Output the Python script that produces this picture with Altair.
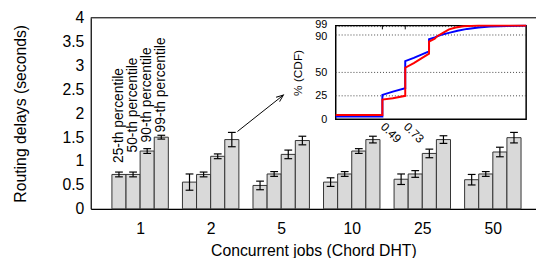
import json
import altair as alt
import pandas as pd

# ---------------- data ----------------
jobs = ["1", "2", "5", "10", "25", "50"]
percentiles = ["25-th percentile", "50-th percentile", "90-th percentile", "99-th percentile"]
p25 = [0.72, 0.56, 0.49, 0.56, 0.62, 0.61]
p50 = [0.72, 0.72, 0.73, 0.73, 0.73, 0.73]
p90 = [1.21, 1.10, 1.14, 1.21, 1.16, 1.19]
p99 = [1.50, 1.45, 1.43, 1.45, 1.45, 1.49]
e25 = [0.05, 0.17, 0.09, 0.09, 0.11, 0.11]
e50 = [0.05, 0.05, 0.05, 0.05, 0.07, 0.05]
e90 = [0.05, 0.05, 0.09, 0.05, 0.09, 0.10]
e99 = [0.04, 0.15, 0.09, 0.07, 0.08, 0.11]
label_y = [0.96, 1.18, 1.39, 1.60]          # where the percentile names start
y_ticks = [0, 0.5, 1, 1.5, 2, 2.5, 3, 3.5, 4]

# arrow from the 99-th percentile bar of "2" to the inset (data units)
arrow_from = [1.38, 1.62]
arrow_to = [2.03, 2.38]

# inset CDF curves
blue_x = [0, 0.49, 0.49, 0.60, 0.73, 0.73, 0.82, 0.90, 0.98, 0.98, 1.04, 1.10, 1.20, 1.28, 1.38, 1.50, 1.62, 1.80, 2.0]
blue_y = [3, 3, 26, 29.5, 33, 62, 65.5, 69, 72.5, 85.5, 87.5, 90, 92.5, 94.5, 96.5, 98, 99, 99.7, 100]
red_x = [0, 0.49, 0.49, 0.60, 0.73, 0.73, 0.82, 0.90, 0.98, 0.98, 1.04, 1.07, 1.14, 1.19, 1.26, 1.34, 1.50, 2.0]
red_y = [4.5, 4.5, 21, 22.5, 25, 55, 60, 65, 70, 83, 86, 89, 93, 96, 98, 99.3, 100, 100]
inset_y_ticks = [0, 25, 50, 90, 99]
inset_x_ticks = [0.49, 0.73]
inset_grid = [25, 50, 90, 99]
inset_x_domain = [0, 2]
inset_y_domain = [0, 100]
main_x_domain = [-0.7, 5.612]
main_y_domain = [0, 4]

# ---------------- tables ----------------
vals = [p25, p50, p90, p99]
errs = [e25, e50, e90, e99]
rows = []
for gi, job in enumerate(jobs):
    for pi, pname in enumerate(percentiles):
        xc = gi + (pi - 1.5) * 0.2
        v = vals[pi][gi]
        e = errs[pi][gi]
        rows.append(dict(job=job, pct=pname, xc=xc, x0=xc - 0.1, x1=xc + 0.1,
                         v=v, zero=0.0, lo=v - e, hi=v + e, cl=xc - 0.055, cr=xc + 0.055))
bars = pd.DataFrame(rows)

labels = pd.DataFrame(dict(x=[(pi - 1.5) * 0.2 for pi in range(4)], y=label_y, text=percentiles))
arrow = pd.DataFrame(dict(x=[arrow_from[0]], y=[arrow_from[1]], x2=[arrow_to[0]], y2=[arrow_to[1]]))
border = pd.DataFrame(dict(x=[main_x_domain[0]], x2=[main_x_domain[1]], y=[main_y_domain[1]]))

cdf = pd.concat([
    pd.DataFrame(dict(cx=blue_x, cy=blue_y, series="blue", i=range(len(blue_x)))),
    pd.DataFrame(dict(cx=red_x, cy=red_y, series="red", i=range(len(red_x)))),
])
frame_df = pd.DataFrame(dict(fx0=[inset_x_domain[0]], fx1=[inset_x_domain[1]],
                             fy0=[inset_y_domain[0]], fy1=[inset_y_domain[1]]))
grid_df = pd.DataFrame(dict(g=inset_grid, gx0=inset_x_domain[0], gx1=inset_x_domain[1]))
tick_df = pd.DataFrame(dict(t=inset_x_ticks, ty0=inset_y_domain[1], ty1=inset_y_domain[1] - 4))

FONT = "Liberation Sans"
W, H = 452, 194


def mxs():
    return alt.Scale(domain=main_x_domain, nice=False, zero=False)


def mys():
    return alt.Scale(domain=main_y_domain, nice=False, zero=False)


ix0, ix1 = 248.7, 442
iy0, iy1 = 103, 8


def ixs():
    return alt.Scale(domain=inset_x_domain, range=[ix0, ix1], nice=False, zero=False)


def iys():
    return alt.Scale(domain=inset_y_domain, range=[iy0, iy1], nice=False, zero=False)


xaxis = alt.Axis(values=list(range(len(jobs))), labelExpr=json.dumps(jobs) + "[datum.value]",
                 title="Concurrent jobs (Chord DHT)", grid=False, ticks=False, tickSize=0,
                 labelPadding=12, labelFontSize=16, titleFontSize=16, titleFontWeight="normal",
                 titlePadding=6, domainColor="black", domainWidth=1.2, labelOverlap=False,
                 labelColor="black", titleColor="black", labelFont=FONT, titleFont=FONT)
yaxis = alt.Axis(values=y_ticks, format="~g", title="Routing delays (seconds)", grid=False,
                 ticks=False, tickSize=0, labelPadding=7, labelFontSize=16, titleFontSize=16,
                 titleFontWeight="normal", titlePadding=34, domainColor="black", domainWidth=1.2,
                 labelOverlap=False,
                 labelColor="black", titleColor="black", labelFont=FONT, titleFont=FONT)

bar_layer = alt.Chart(bars).mark_bar(fill="#d9d9d9", stroke="#333333", strokeWidth=1).encode(
    x=alt.X("x0:Q", scale=mxs(), axis=xaxis),
    x2="x1:Q",
    y=alt.Y("v:Q", scale=mys(), axis=yaxis),
    y2="zero:Q",
)
err_layer = alt.Chart(bars).mark_rule(color="black", strokeWidth=1.2).encode(
    x=alt.X("xc:Q", scale=mxs(), axis=None), y=alt.Y("lo:Q", scale=mys(), axis=None), y2="hi:Q")
cap_lo = alt.Chart(bars).mark_rule(color="black", strokeWidth=1.2).encode(
    x=alt.X("cl:Q", scale=mxs(), axis=None), x2="cr:Q", y=alt.Y("lo:Q", scale=mys(), axis=None))
cap_hi = alt.Chart(bars).mark_rule(color="black", strokeWidth=1.2).encode(
    x=alt.X("cl:Q", scale=mxs(), axis=None), x2="cr:Q", y=alt.Y("hi:Q", scale=mys(), axis=None))

text_layer = alt.Chart(labels).mark_text(angle=270, align="left", baseline="middle",
                                         font=FONT, fontSize=14, color="black").encode(
    x=alt.X("x:Q", scale=mxs(), axis=None), y=alt.Y("y:Q", scale=mys(), axis=None), text="text:N")

arrow_line = alt.Chart(arrow).mark_rule(color="black", strokeWidth=1).encode(
    x=alt.X("x:Q", scale=mxs(), axis=None), y=alt.Y("y:Q", scale=mys(), axis=None), x2="x2:Q", y2="y2:Q")
arrow_head = alt.Chart(arrow).mark_point(shape="M-0.4,1 L0,0 L0.4,1", size=200, angle=52,
                                         filled=False, color="black", strokeWidth=1, opacity=1).encode(
    x=alt.X("x2:Q", scale=mxs(), axis=None), y=alt.Y("y2:Q", scale=mys(), axis=None))

top_border = alt.Chart(border).mark_rule(color="black", strokeWidth=1.2).encode(
    x=alt.X("x:Q", scale=mxs(), axis=None), x2="x2:Q", y=alt.Y("y:Q", scale=mys(), axis=None))

# ---------------- inset ----------------
ixaxis = alt.Axis(orient="bottom", offset=-(H - iy0), values=inset_x_ticks, format=".2f",
                  title=None, grid=False, ticks=False, tickSize=0, domain=False,
                  labelAngle=45, labelAlign="left", labelBaseline="middle", labelPadding=5,
                  labelOverlap=False,
                  labelFontSize=12, labelColor="black", labelFont=FONT)
iyaxis = alt.Axis(orient="left", offset=-ix0, values=inset_y_ticks, title="% (CDF)",
                  grid=False, ticks=False, tickSize=0, domain=False, labelPadding=9,
                  labelOverlap=False,
                  labelOffset={"condition": [{"test": "datum.value == 99", "value": -2},
                                             {"test": "datum.value == 90", "value": 2}],
                               "value": 0},
                  labelFontSize=11, titleFontSize=12, titleFontWeight="normal", titlePadding=11,
                  labelColor="black", titleColor="black", labelFont=FONT, titleFont=FONT)

frame = alt.Chart(frame_df).mark_rect(fill="white", stroke="black", strokeWidth=1.5).encode(
    x=alt.X("fx0:Q", scale=ixs(), axis=None), x2="fx1:Q",
    y=alt.Y("fy0:Q", scale=iys(), axis=None), y2="fy1:Q")
grid = alt.Chart(grid_df).mark_rule(color="#444444", strokeWidth=1, strokeDash=[1, 2]).encode(
    y=alt.Y("g:Q", scale=iys(), axis=None), x=alt.X("gx0:Q", scale=ixs(), axis=None), x2="gx1:Q")
ticks = alt.Chart(tick_df).mark_rule(color="black", strokeWidth=1).encode(
    x=alt.X("t:Q", scale=ixs(), axis=None), y=alt.Y("ty0:Q", scale=iys(), axis=None), y2="ty1:Q")
lines = alt.Chart(cdf).mark_line(strokeWidth=2).encode(
    x=alt.X("cx:Q", scale=ixs(), axis=ixaxis),
    y=alt.Y("cy:Q", scale=iys(), axis=iyaxis),
    color=alt.Color("series:N", scale=alt.Scale(domain=["blue", "red"], range=["#0000ff", "#ff0000"]),
                    legend=None),
    order=alt.Order("i:Q"),
)

chart = alt.layer(bar_layer, err_layer, cap_lo, cap_hi, text_layer, arrow_line, arrow_head, top_border,
                  frame, grid, ticks, lines).resolve_scale(x="independent", y="independent").properties(
    width=W, height=H,
    padding={"left": 84, "top": 8, "right": 0, "bottom": 48},
    autosize=alt.AutoSizeParams(type="none"),
).configure_view(stroke=None).configure(font=FONT)

chart.save("out.html", embed_options={"renderer": "svg", "actions": False})
